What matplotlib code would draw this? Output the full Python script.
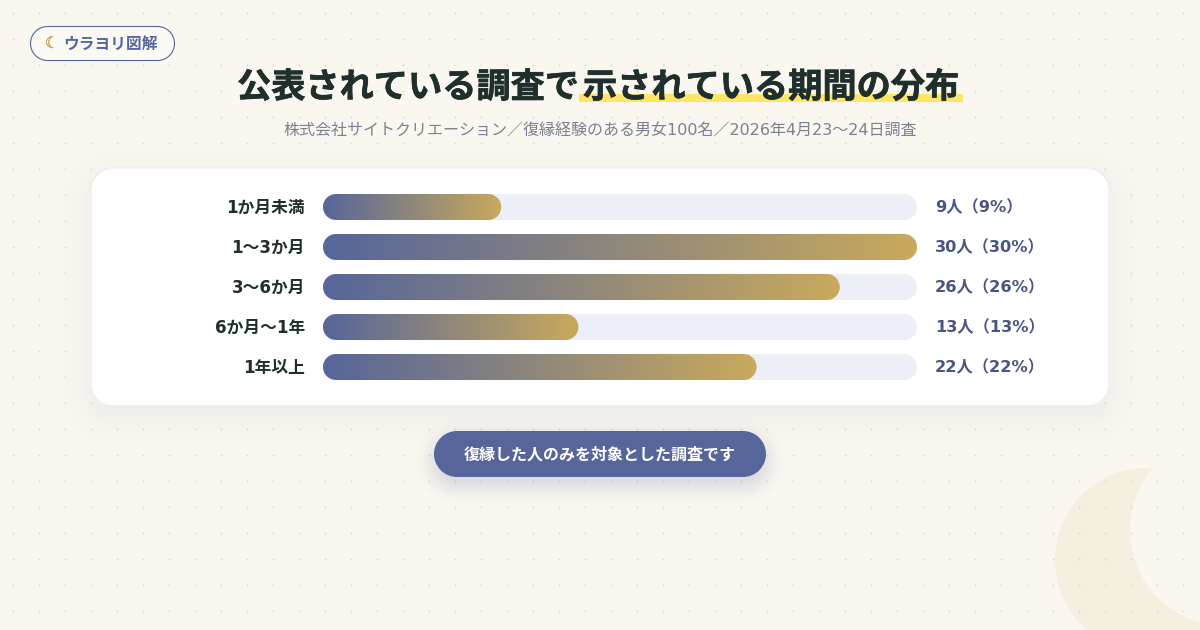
import matplotlib
matplotlib.use('Agg')
import matplotlib.pyplot as plt
import numpy as np
from matplotlib.path import Path
from matplotlib.patches import PathPatch, Circle, Rectangle
from matplotlib.colors import to_rgb
from matplotlib.transforms import ScaledTranslation
import matplotlib.patheffects as pe

plt.rcParams['font.family'] = ['Noto Sans CJK JP', 'DejaVu Sans']

# data
periods = ['1か月未満', '1〜3か月', '3〜6か月', '6か月〜1年', '1年以上']
counts = [9, 30, 26, 13, 22]
percents = [9, 30, 26, 13, 22]
# fill length of each bar as % of the track
fill_pct = [30, 100, 87, 43, 73]

title_left = '公表されている調査で'
title_right = '示されている期間の分布'
subtitle = '株式会社サイトクリエーション／復縁経験のある男女100名／2026年4月23〜24日調査'
badge_text = 'ウラヨリ図解'
note_text = '復縁した人のみを対象とした調査です'

BG = '#faf7f0'
NAVY = '#56669a'
GOLD = '#c9a95c'
DARK = '#1f2f2b'
TRACK = '#eceff8'
VALUE = '#4a5580'
W, H = 1200, 630
LATIN_WIDE = ['DejaVu Sans', 'Noto Sans CJK JP']


def px(v):
    # css px -> pt
    return v * 0.72


def heavy(color, lw):
    # the CJK bold is lighter than the reference, thicken it a bit
    return [pe.withStroke(linewidth=lw, foreground=color)]


def pill(x0, y0, x1, y1, rx, ry=None):
    # rounded rect path, rx/ry in the units of the axes it goes on
    ry = rx if ry is None else ry
    k = 0.5523
    v = [(x0 + rx, y0), (x1 - rx, y0),
         (x1 - rx + k * rx, y0), (x1, y0 + ry - k * ry), (x1, y0 + ry),
         (x1, y1 - ry),
         (x1, y1 - ry + k * ry), (x1 - rx + k * rx, y1), (x1 - rx, y1),
         (x0 + rx, y1),
         (x0 + rx - k * rx, y1), (x0, y1 - ry + k * ry), (x0, y1 - ry),
         (x0, y0 + ry),
         (x0, y0 + ry - k * ry), (x0 + rx - k * rx, y0), (x0 + rx, y0),
         (x0 + rx, y0)]
    c = [Path.MOVETO, Path.LINETO,
         Path.CURVE4, Path.CURVE4, Path.CURVE4,
         Path.LINETO,
         Path.CURVE4, Path.CURVE4, Path.CURVE4,
         Path.LINETO,
         Path.CURVE4, Path.CURVE4, Path.CURVE4,
         Path.LINETO,
         Path.CURVE4, Path.CURVE4, Path.CURVE4,
         Path.CLOSEPOLY]
    return Path(v, c)


def soft_shadow(ax, x0, y0, x1, y1, r, blur, color, alpha, zorder):
    # blurred box shadow from a rounded rect distance field
    xx, yy = np.meshgrid(np.arange(W) + 0.5, np.arange(H) + 0.5)
    cx, cy = (x0 + x1) / 2, (y0 + y1) / 2
    qx = np.abs(xx - cx) - ((x1 - x0) / 2 - r)
    qy = np.abs(yy - cy) - ((y1 - y0) / 2 - r)
    d = np.hypot(np.maximum(qx, 0), np.maximum(qy, 0)) + np.minimum(np.maximum(qx, qy), 0) - r
    t = np.clip((d + blur) / (2 * blur), 0, 1)
    a = alpha * (1 - t * t * (3 - 2 * t))
    img = np.zeros((H, W, 4))
    img[..., :3] = to_rgb(color)
    img[..., 3] = a
    ax.imshow(img, extent=(0, W, H, 0), aspect='auto', zorder=zorder, interpolation='nearest')


fig = plt.figure(figsize=(12, 6.3), dpi=100, facecolor=BG)

# page layer in pixel coordinates
bg = fig.add_axes([0, 0, 1, 1])
bg.set_facecolor(BG)
bg.axis('off')

# crescent bottom right
bg.add_patch(Circle((1147, 560), 92, fc='#f5efe0', ec='none', zorder=1))
bg.add_patch(Circle((1226, 530), 96, fc=BG, ec='none', zorder=1.1))

# dotted background
dx, dy = np.meshgrid(np.arange(13, W, 26), np.arange(13, H, 26))
bg.scatter(dx.ravel(), dy.ravel(), s=2.0, color='#dedad2', linewidths=0, zorder=2)

# badge
bg.add_patch(PathPatch(pill(30.5, 26.5, 174.5, 60.5, 17), fc='#fbf9f4', ec=NAVY, lw=0.8, zorder=3))
bg.text(52, 43.5, '☾', color=GOLD, fontsize=px(16), ha='center', va='center',
        family=['DejaVu Sans'], zorder=4, path_effects=heavy(GOLD, 0.3))
bg.text(110, 44, badge_text, color=NAVY, fontsize=px(15.7), fontweight='bold',
        ha='center', va='center', zorder=4)

# title
bg.add_patch(Rectangle((579, 94), 384, 8, fc='#ffe566', ec='none', zorder=3))
bg.text(237, 87, title_left, color=DARK, fontsize=px(34.2), fontweight='bold',
        ha='left', va='center', zorder=4, path_effects=heavy(DARK, 0.5))
bg.text(583, 87, title_right, color=DARK, fontsize=px(34.2), fontweight='bold',
        ha='left', va='center', zorder=4, path_effects=heavy(DARK, 0.5))
bg.text(600, 131, subtitle, color='#7c8093', fontsize=px(16.05), ha='center', va='center',
        family=LATIN_WIDE, zorder=4)

# card
soft_shadow(bg, 91, 178, 1109, 416, 22, 38, '#56669a', 0.09, 5)
bg.add_patch(PathPatch(pill(91, 168, 1109, 406, 22), fc='white', ec='#efece6', lw=0.8, zorder=6))

# note button
soft_shadow(bg, 434, 439, 766, 485, 23, 22, '#56669a', 0.26, 5)
bg.add_patch(PathPatch(pill(434, 431, 766, 477, 23), fc=NAVY, ec='none', zorder=7))
bg.text(600, 454, note_text, color='white', fontsize=px(16), fontweight='bold',
        ha='center', va='center', zorder=8)

bg.set_xlim(0, W)
bg.set_ylim(H, 0)

# bars, track runs 323-917 px and rows are 40 px apart
ax = fig.add_axes([323 / W, 1 - 387 / H, 594 / W, 200 / H])
ax.patch.set_alpha(0)
for s in ax.spines.values():
    s.set_visible(False)

x_max = 100
bar_h = 26 / 40
rx = 13 * x_max / 594
ry = bar_h / 2
grad = np.linspace(0, 1, 256)[None, :, None]
grad = np.array(to_rgb(NAVY)) * (1 - grad) + np.array(to_rgb(GOLD)) * grad

for i, (n, p, f) in enumerate(zip(counts, percents, fill_pct)):
    ax.add_patch(PathPatch(pill(0, i - ry, x_max, i + ry, rx, ry), fc=TRACK, ec='none', zorder=1))
    im = ax.imshow(grad, extent=(0, f, i + ry, i - ry), aspect='auto', zorder=2)
    clip = PathPatch(pill(0, i - ry, f, i + ry, rx, ry), fc='none', ec='none', transform=ax.transData)
    ax.add_patch(clip)
    im.set_clip_path(clip)
    ax.annotate(f'{n}人（{p}%）', xy=(x_max, i), xytext=(px(18), px(-1)), textcoords='offset points',
                color=VALUE, fontsize=px(16.2), fontweight='bold', ha='left', va='center',
                family=LATIN_WIDE)

ax.set_xlim(0, x_max)
ax.set_ylim(4.5, -0.5)
ax.set_xticks([])
ax.set_yticks(range(len(periods)), periods)
ax.tick_params(axis='y', length=0, pad=px(18), labelsize=px(16.7), labelcolor=DARK)
nudge = ScaledTranslation(0, 1 / 100, fig.dpi_scale_trans)
for lab in ax.get_yticklabels():
    lab.set_fontweight('bold')
    lab.set_family(LATIN_WIDE)
    lab.set_transform(lab.get_transform() + nudge)

fig.savefig('out.png', dpi=100, facecolor=BG)
